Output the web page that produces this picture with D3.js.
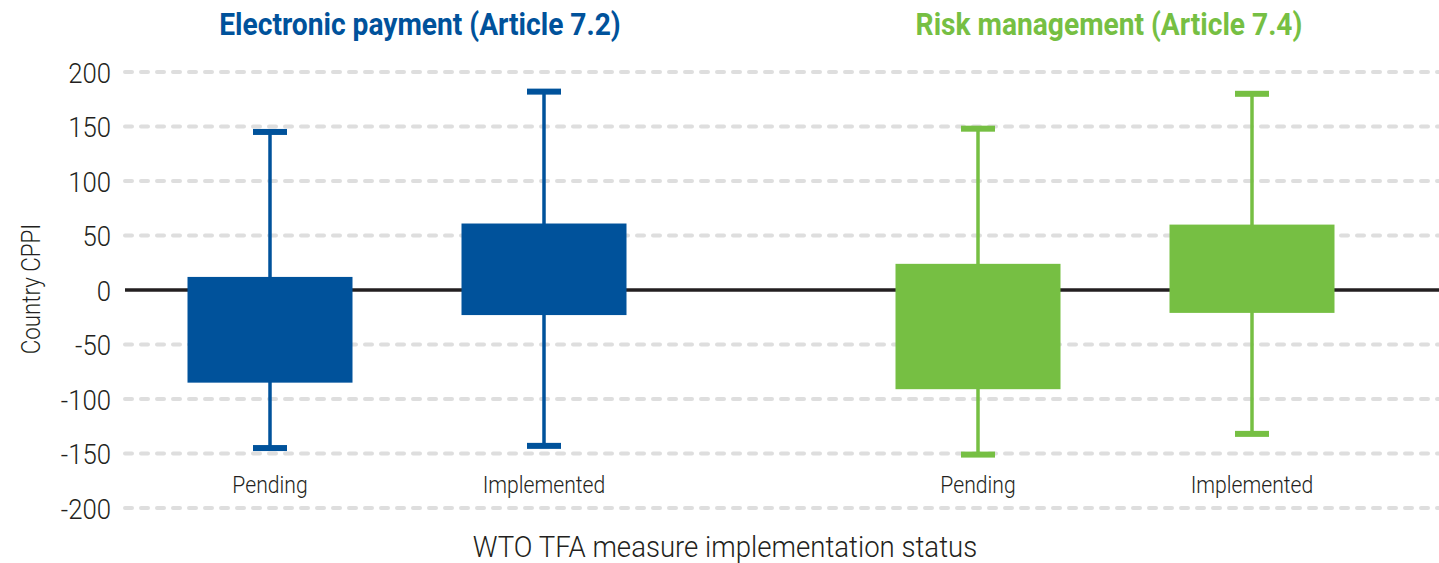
<!DOCTYPE html>
<html>
<head>
<meta charset="utf-8">
<script src="https://cdn.jsdelivr.net/npm/d3@7"></script>
<style>
  body { margin: 0; background: #fff; }
  svg { display: block; font-family: Roboto, "Noto Sans", sans-serif; }
</style>
</head>
<body>
<svg id="chart"></svg>
<script>
// data
const groups = ["Electronic payment (Article 7.2)", "Risk management (Article 7.4)"];
const groupColors = ["#00529b", "#76bf43"];
const statuses = ["Pending", "Implemented"];
const yTicks = [-200, -150, -100, -50, 0, 50, 100, 150, 200];

// one entry per box: e-pay pending, e-pay implemented, risk pending, risk implemented
const boxGroup = [0, 0, 1, 1];
const boxStatus = ["Pending", "Implemented", "Pending", "Implemented"];
const boxLow = [-85, -23, -91, -21];
const boxHigh = [12, 61, 24, 60];
const whiskerLow = [-145, -143, -151, -132];
const whiskerHigh = [145, 182, 148, 180];

const width = 1439, height = 563;
const sx = 0.92; // squeeze text to look like the condensed face

const svg = d3.select("#chart")
  .attr("width", width)
  .attr("height", height);

const y = d3.scaleLinear().domain([-200, 200]).range([508, 72]);
const xGroup = d3.scalePoint().domain(groups).range([407, 1115]);
const xStatus = d3.scalePoint().domain(statuses).range([-137, 137]);
const boxW = 165, capW = 34;

// dashed gridlines
svg.append("g")
  .selectAll("line")
  .data(yTicks.filter(d => d !== 0))
  .join("line")
  .attr("x1", 125).attr("x2", width)
  .attr("y1", d => y(d)).attr("y2", d => y(d))
  .attr("stroke", "#dedede")
  .attr("stroke-width", 4)
  .attr("stroke-dasharray", "7,9")
  .attr("stroke-linecap", "round");

// zero line
svg.append("line")
  .attr("x1", 125).attr("x2", width)
  .attr("y1", y(0)).attr("y2", y(0))
  .attr("stroke", "#231f20")
  .attr("stroke-width", 3.5);

// y axis labels (plain hyphen for negatives, like the original)
const yAxis = svg.append("g")
  .attr("transform", "translate(111,0)")
  .call(d3.axisLeft(y).tickValues(yTicks).tickSize(0).tickPadding(0).tickFormat(d => String(d)));
yAxis.select(".domain").remove();
yAxis.selectAll("text")
  .attr("x", null)
  .attr("dy", "0.36em")
  .attr("transform", `scale(${sx},1)`)
  .style("font-family", "Roboto")
  .style("font-weight", 300)
  .style("font-size", "28px")
  .attr("fill", "#231f20");

const cx = i => xGroup(groups[boxGroup[i]]) + xStatus(boxStatus[i]);
const idx = d3.range(boxLow.length);

const boxes = svg.append("g")
  .selectAll("g")
  .data(idx)
  .join("g")
  .attr("fill", i => groupColors[boxGroup[i]])
  .attr("stroke", i => groupColors[boxGroup[i]]);

boxes.append("line")
  .attr("x1", cx).attr("x2", cx)
  .attr("y1", i => y(whiskerHigh[i]))
  .attr("y2", i => y(whiskerLow[i]))
  .attr("stroke-width", 3.5);

boxes.append("rect")
  .attr("x", i => cx(i) - capW / 2)
  .attr("y", i => y(whiskerHigh[i]) - 3)
  .attr("width", capW).attr("height", 6)
  .attr("stroke", "none");

boxes.append("rect")
  .attr("x", i => cx(i) - capW / 2)
  .attr("y", i => y(whiskerLow[i]) - 3)
  .attr("width", capW).attr("height", 6)
  .attr("stroke", "none");

boxes.append("rect")
  .attr("x", i => cx(i) - boxW / 2)
  .attr("y", i => y(boxHigh[i]))
  .attr("width", boxW)
  .attr("height", i => y(boxLow[i]) - y(boxHigh[i]))
  .attr("stroke", "none");

// category labels
svg.append("g")
  .selectAll("text")
  .data(idx)
  .join("text")
  .attr("transform", i => `translate(${cx(i)},493) scale(${sx},1)`)
  .attr("text-anchor", "middle")
  .style("font-weight", 300)
  .style("font-size", "23px")
  .attr("fill", "#231f20")
  .text(i => boxStatus[i]);

// group titles
svg.append("g")
  .selectAll("text")
  .data(groups)
  .join("text")
  .attr("transform", (d, i) => `translate(${xGroup(d) + (i ? -6 : 13)},35) scale(0.88,1)`)
  .attr("text-anchor", "middle")
  .style("font-weight", 700)
  .style("font-size", "32px")
  .attr("fill", (d, i) => groupColors[i])
  .text(d => d);

// axis titles
svg.append("text")
  .attr("transform", `translate(725,557) scale(${sx},1)`)
  .attr("text-anchor", "middle")
  .style("font-weight", 300)
  .style("font-size", "30px")
  .attr("fill", "#231f20")
  .text("WTO TFA measure implementation status");

svg.append("text")
  .attr("transform", `translate(40,289) rotate(-90) scale(0.86,1)`)
  .attr("text-anchor", "middle")
  .style("font-weight", 300)
  .style("font-size", "26px")
  .attr("fill", "#231f20")
  .text("Country CPPI");
</script>
</body>
</html>
